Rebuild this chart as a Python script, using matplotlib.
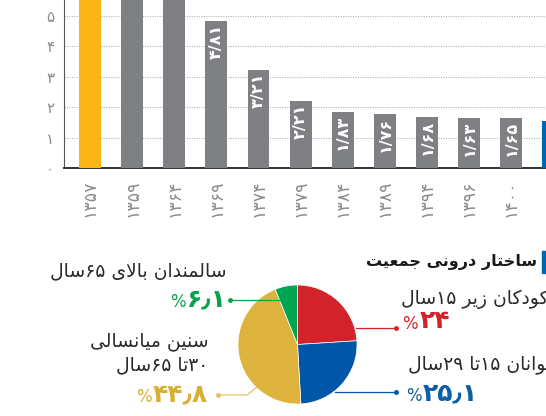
import re
import matplotlib
matplotlib.use('Agg')
import matplotlib.pyplot as plt
from matplotlib.patches import Rectangle

plt.rcParams['font.family'] = ['DejaVu Sans']

# --- داده ها ---
years = ['۱۳۵۷', '۱۳۵۹', '۱۳۶۴', '۱۳۶۹', '۱۳۷۴', '۱۳۷۹', '۱۳۸۴', '۱۳۸۹', '۱۳۹۴', '۱۳۹۶', '۱۴۰۰']
fertility = [6.3, 6.3, 6.35, 4.81, 3.21, 2.21, 1.83, 1.76, 1.68, 1.63, 1.65]
last_value = 1.55   # ستون آبی که در لبه تصویر بریده شده
bar_colors = ['#FBB616'] + ['#7F8083'] * 10

title = 'ساختار درونی جمعیت'
groups = ['کودکان زیر ۱۵سال', 'جوانان ۱۵تا ۲۹سال', 'سنین میانسالی\n۳۰تا ۶۵سال', 'سالمندان بالای ۶۵سال']
shares = [24, 25.1, 44.8, 6.1]
pie_colors = ['#D2232A', '#0057A8', '#DDB33D', '#00A551']
pct_colors = ['#D2232A', '#0B5FA8', '#D9AE35', '#0AA14E']

FA = str.maketrans('0123456789', '۰۱۲۳۴۵۶۷۸۹')

def fa(v, sep='/'):
    s = ('%g' % v).replace('.', sep)
    return s.translate(FA)

# شکل حروف عربی (جدا، پایانی، آغازی، میانی)
FORMS = {
    'ا': '\uFE8D\uFE8E', 'د': '\uFEA9\uFEAA', 'ر': '\uFEAD\uFEAE',
    'ز': '\uFEAF\uFEB0', 'و': '\uFEED\uFEEE',
    'ب': '\uFE8F\uFE90\uFE91\uFE92', 'ت': '\uFE95\uFE96\uFE97\uFE98',
    'ج': '\uFE9D\uFE9E\uFE9F\uFEA0', 'خ': '\uFEA5\uFEA6\uFEA7\uFEA8',
    'س': '\uFEB1\uFEB2\uFEB3\uFEB4', 'ع': '\uFEC9\uFECA\uFECB\uFECC',
    'ل': '\uFEDD\uFEDE\uFEDF\uFEE0', 'م': '\uFEE1\uFEE2\uFEE3\uFEE4',
    'ن': '\uFEE5\uFEE6\uFEE7\uFEE8', 'ی': '\uFBFC\uFBFD\uFBFE\uFBFF',
    'ک': '\uFB8E\uFB8F\uFB90\uFB91',
}

def shape_line(t):
    out = []
    i = 0
    while i < len(t):
        ch = t[i]
        prev = t[i - 1] if i > 0 else ''
        nxt = t[i + 1] if i + 1 < len(t) else ''
        jp = prev in FORMS and len(FORMS[prev]) == 4
        if ch not in FORMS:
            out.append(ch)
            i += 1
            continue
        if ch == 'ل' and nxt == 'ا':
            out.append('\uFEFC' if jp else '\uFEFB')
            i += 2
            continue
        f = FORMS[ch]
        jn = len(f) == 4 and nxt in FORMS
        if jp and jn:
            out.append(f[3])
        elif jp:
            out.append(f[1])
        elif jn:
            out.append(f[2])
        else:
            out.append(f[0])
        i += 1
    runs = re.findall(r'[۰-۹/٫]+|[^۰-۹/٫]', ''.join(out))
    return ''.join(runs[::-1])

def rtl(t):
    return '\n'.join(shape_line(l) for l in t.split('\n'))

fig = plt.figure(figsize=(5.46, 4.16), dpi=100)

# --- نمودار میله ای ---
ax = fig.add_axes([64 / 546, 248 / 416, 1 - 64 / 546, 168 / 416])
x = list(range(len(years)))
bars = ax.bar(x, fertility, width=0.52, color=bar_colors, zorder=3)
ax.bar([len(years)], [last_value], width=0.52, color='#0066B2', zorder=3)
ax.set_xlim(-0.62, 10.83)
ax.set_ylim(0, 5.51)
for i, b in enumerate(bars):
    ax.annotate(fa(fertility[i]), (b.get_x() + b.get_width() / 2, b.get_height()),
                xytext=(0, -2), textcoords='offset points', rotation=90,
                ha='center', va='top', fontsize=11.5, fontweight='bold',
                color='#1a1a1a' if i == 0 else 'white', zorder=4)
ax.set_yticks(range(6))
ax.set_yticklabels([fa(v) for v in range(6)], color='#8c8c8c', fontsize=11)
ax.set_xticks(x)
ax.set_xticklabels(years, rotation=90, color='#8c8c8c', fontsize=12.5)
ax.tick_params(axis='x', length=0, pad=8)
ax.tick_params(axis='y', length=0, pad=7)
for s in ['top', 'right']:
    ax.spines[s].set_visible(False)
ax.spines['left'].set_color('#555555')
ax.spines['bottom'].set_color('#333333')
ax.spines['bottom'].set_linewidth(1.4)
ax.yaxis.grid(True, color='#b5b5b5', linestyle=(0, (1, 1.2)), linewidth=0.8, zorder=0)

# --- نمودار دایره ای ---
pax = fig.add_axes([238 / 546, 12 / 416, 119 / 546, 119 / 416])
pax.pie(shares, colors=pie_colors, startangle=90, counterclock=False,
        wedgeprops=dict(edgecolor='white', linewidth=0.5))
pax.set_xlim(-1, 1)
pax.set_ylim(-1, 1)

ov = fig.add_axes([0, 0, 1, 1], zorder=5)
ov.set_xlim(0, 546)
ov.set_ylim(416, 0)
ov.axis('off')

ov.text(537, 262, rtl(title), ha='right', va='center', fontsize=11.5, fontweight='bold', color='#1a1a1a')
ov.add_patch(Rectangle((542, 251), 6, 22, color='#0066B2'))

# برچسب ها
txt_color = '#2a2a2a'
ov.text(401, 299, rtl(groups[0]), ha='left', va='center', fontsize=13.5, color=txt_color)
ov.text(408, 364, rtl(groups[1]), ha='left', va='center', fontsize=13.5, color=txt_color)
ov.text(208, 353, rtl(groups[2]), ha='right', va='center', fontsize=13.5, color=txt_color,
        linespacing=1.3)
ov.text(226, 271, rtl(groups[3]), ha='right', va='center', fontsize=13.5, color=txt_color)

pct_pos = [(450, 321), (478, 393), (208, 394), (227, 299)]
for i, (px, py) in enumerate(pct_pos):
    t = ov.text(px, py, fa(shares[i], '٫'), ha='right', va='center', fontsize=18,
                fontweight='bold', color=pct_colors[i])
    ov.annotate('%', xy=(0, 0), xycoords=t, xytext=(-1, 0), textcoords='offset points',
                ha='right', va='bottom', fontsize=12, color=pct_colors[i])

# خطوط راهنما
ov.plot([356, 396], [328, 328], color=pie_colors[0], lw=0.9)
ov.plot([396], [328], 'o', color=pie_colors[0], ms=2.5)
ov.plot([335, 396], [392, 392], color=pie_colors[1], lw=0.9)
ov.plot([396], [392], 'o', color=pie_colors[1], ms=2.5)
ov.plot([230, 282], [300, 300], color=pie_colors[3], lw=0.9)
ov.plot([230], [300], 'o', color=pie_colors[3], ms=2.5)
ov.plot([218, 247, 257], [395, 395, 387], color='#E2C46A', lw=0.9)
ov.plot([218], [395], 'o', color='#E2C46A', ms=2.5)

fig.savefig('out.png', dpi=100)
